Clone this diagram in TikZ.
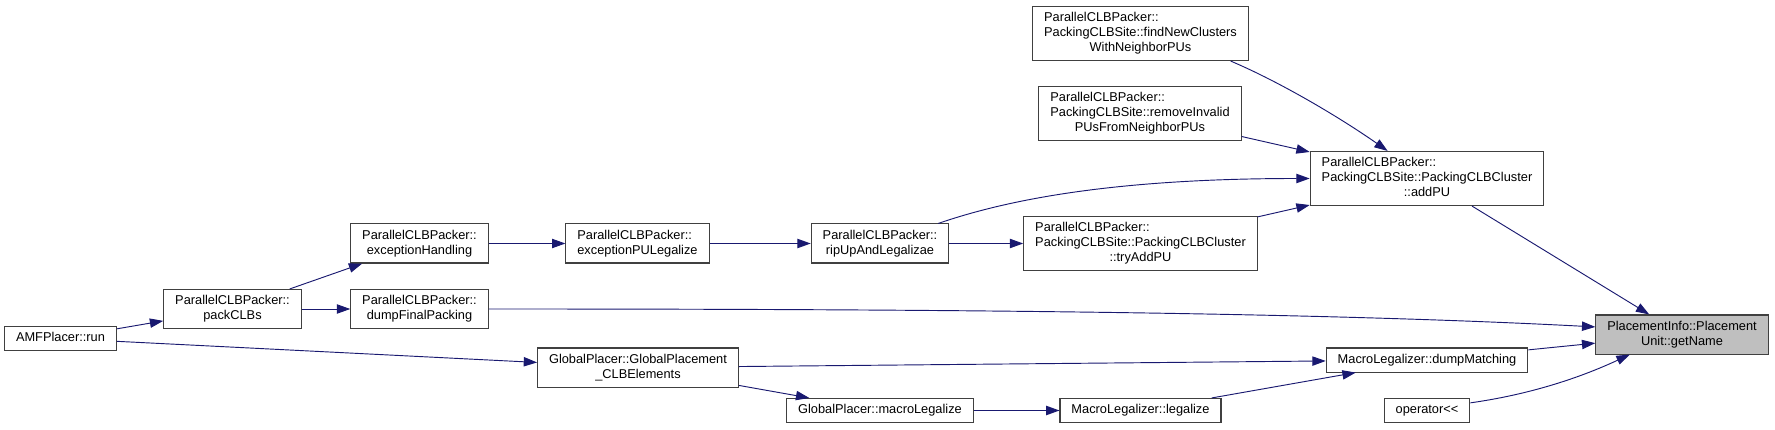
\documentclass[tikz,border=0pt]{standalone}
\usepackage{fontspec}
\setmainfont{Liberation Sans}
\usetikzlibrary{arrows.meta,calc}
\definecolor{midblue}{RGB}{25,25,112}
\definecolor{frame}{RGB}{64,64,64}
\definecolor{hl}{RGB}{191,191,191}
\tikzstyle{fn} = [draw=frame, line width=0.8pt, fill=white, inner xsep=8.6pt,
  inner ysep=3.4pt, font=\fontsize{9.6}{11.25}\selectfont]
\tikzstyle{fnhl} = [fn, fill=hl]
\tikzstyle{call} = [->, draw=midblue, line width=0.7pt]
\newcommand{\dox}[2]{\begin{tabular}{@{}l@{}}#1\\\multicolumn{1}{@{}c@{}}{#2}\end{tabular}}
\newcommand{\doxone}[1]{\begin{tabular}{@{}c@{}}#1\end{tabular}}
\begin{document}
\begin{tikzpicture}[>={Triangle[length=10pt,width=7pt]}, x=0.75pt, y=0.75pt]
    \useasboundingbox (0,0) rectangle (1775,429);

    \node[fn] (run) at (60.5,90.5) {\doxone{AMFPlacer::run}};
    \node[fn] (pack) at (232.5,120) {\dox{ParallelCLBPacker::}{packCLBs}};
    \node[fn] (exch) at (419.5,185.5) {\dox{ParallelCLBPacker::}{exceptionHandling}};
    \node[fn] (dump) at (419.5,120) {\dox{ParallelCLBPacker::}{dumpFinalPacking}};
    \node[fn] (expul) at (637.5,185.5) {\dox{ParallelCLBPacker::}{exceptionPULegalize}};
    \node[fn] (rip) at (880,185.5) {\dox{ParallelCLBPacker::}{ripUpAndLegalizae}};
    \node[fn] (gpl) at (638,61.5) {\dox{GlobalPlacer::GlobalPlacement}{\_CLBElements}};
    \node[fn] (mleg) at (880,18.5) {\doxone{GlobalPlacer::macroLegalize}};

    \node[fn] (find) at (1140.5,395.5)
    {\dox{ParallelCLBPacker::\\PackingCLBSite::findNewClusters}{WithNeighborPUs}};
    \node[fn] (rem) at (1140,315.5)
    {\dox{ParallelCLBPacker::\\PackingCLBSite::removeInvalid}{PUsFromNeighborPUs}};
    \node[fn] (try) at (1140.5,185.5)
    {\dox{ParallelCLBPacker::\\PackingCLBSite::PackingCLBCluster}{::tryAddPU}};
    \node[fn] (leg) at (1140.5,18.5) {\doxone{MacroLegalizer::legalize}};

    \node[fn] (add) at (1427,250.5)
    {\dox{ParallelCLBPacker::\\PackingCLBSite::PackingCLBCluster}{::addPU}};
    \node[fn] (dm) at (1427,69) {\doxone{MacroLegalizer::dumpMatching}};
    \node[fn] (op) at (1427,18.5) {\doxone{operator<{}<}};

    \node[fnhl] (name) at (1682,94.5) {\dox{PlacementInfo::Placement}{Unit::getName}};

    \draw[call] (run) -- (pack);
    \draw[call] (run) -- (gpl);
    \draw[call] (pack) -- (exch);
    \draw[call] (pack) -- (dump);
    \draw[call] (exch) -- (expul);
    \draw[call] (expul) -- (rip);
    \draw[call] (rip) -- (try);
    \draw[call] (rip.19) .. controls +(19:70) and +(180:200) .. (add.west);
    \draw[call] (try) -- (add);
    \draw[call] (rem) -- (add);
    \draw[call] (find.-17) .. controls +(-23:55) and +(145:57) .. (add.145);
    \draw[call] (add) -- (name);
    \draw[call] (dump.east) .. controls +(0:410) and +(177:295) .. (name.175);
    \draw[call] (dm) -- (name);
    \draw[call] (op.10) .. controls +(8:60) and +(205:55) .. (name.201);
    \draw[call] (gpl) -- (dm);
    \draw[call] (gpl) -- (mleg);
    \draw[call] (mleg) -- (leg);
    \draw[call] (leg) -- (dm);

\end{tikzpicture}
\end{document}
